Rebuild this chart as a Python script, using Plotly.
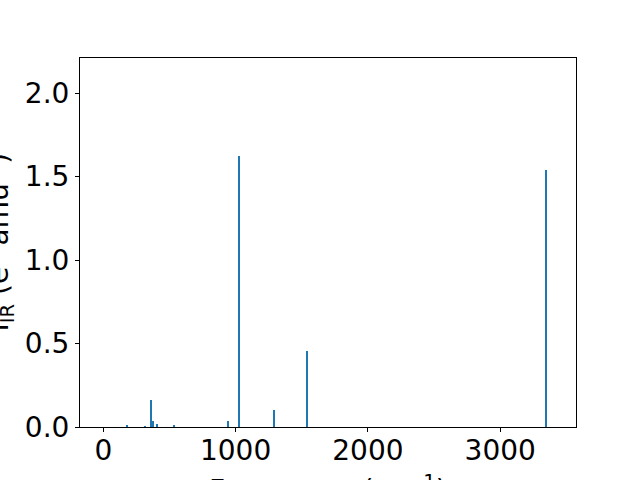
import plotly.graph_objects as go

# Data
frequencies = [181, 318, 363, 378, 408, 537, 945, 1028, 1293, 1542, 3348]
intensities = [0.012, 0.005, 0.162, 0.036, 0.020, 0.008, 0.036, 1.623, 0.102, 0.455, 1.539]
x_ticks = [0, 1000, 2000, 3000]
y_ticks = [0.0, 0.5, 1.0, 1.5, 2.0]
y_tick_labels = ["0.0", "0.5", "1.0", "1.5", "2.0"]

FONT = "DejaVu Sans"
FS = 28

fig = go.Figure()
fig.add_trace(go.Bar(
    x=frequencies, y=intensities, width=10,
    marker=dict(color="#1f77b4", line=dict(width=0)),
))

axis_common = dict(
    showline=True, linecolor="black", linewidth=1, mirror=True,
    ticks="outside", ticklen=4, tickwidth=1, tickcolor="black",
    showgrid=False, zeroline=False, automargin=False,
    tickfont=dict(family=FONT, size=FS, color="black"),
)

fig.update_layout(
    width=640, height=480,
    margin=dict(l=80, r=64, t=58, b=53),
    paper_bgcolor="white", plot_bgcolor="white",
    showlegend=False,
    bargap=0,
    xaxis=dict(range=[-176, 3573], tickvals=x_ticks, ticktext=[str(t) for t in x_ticks],
               ticklabelstandoff=-6, **axis_common),
    yaxis=dict(range=[0, 2.21], tickvals=y_ticks, ticktext=y_tick_labels, **axis_common),
    annotations=[
        dict(text="I<sub>IR</sub> (e<sup>2</sup> amu<sup>-1</sup>)", xref="paper", yref="paper",
             x=0, y=0.5, xanchor="center", yanchor="middle", xshift=-81, textangle=-90,
             showarrow=False, font=dict(family=FONT, size=FS, color="black")),
        dict(text="Frequency (cm<sup>-1</sup>)", xref="paper", yref="paper",
             x=0.5, y=0, xanchor="center", yanchor="top", yshift=-41,
             showarrow=False, font=dict(family=FONT, size=FS, color="black")),
    ],
)

fig.write_html("out.html", config={"displayModeBar": False},
               post_script="document.body.style.margin='0';document.body.style.overflow='hidden';")
